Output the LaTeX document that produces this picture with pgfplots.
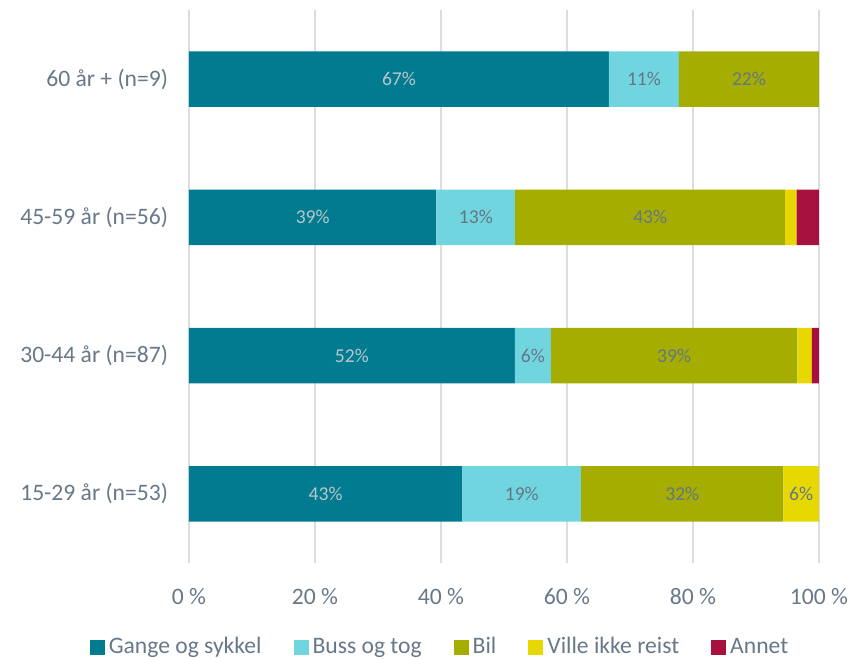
\documentclass[border=0pt]{standalone}
\usepackage{fontspec}
\setmainfont{Carlito}
\usepackage{pgfplots}
\usepackage{pgfplotstable}
\pgfplotsset{compat=1.18}

\definecolor{cGange}{HTML}{007B8F}
\definecolor{cBuss}{HTML}{71D5E0}
\definecolor{cBil}{HTML}{A4AD00}
\definecolor{cVille}{HTML}{E6D800}
\definecolor{cAnnet}{HTML}{A6123D}
\definecolor{txt}{HTML}{687889}
\definecolor{lblLight}{HTML}{BAC5CA}
\definecolor{lblDark}{HTML}{667686}
\definecolor{gridc}{HTML}{D9DEE3}

% y: 0 = 15-29, 1 = 30-44, 2 = 45-59, 3 = 60+ ; lab -1 = no label
\pgfplotstableread{
y v lab
0 43.39 43
1 51.72 52
2 39.28 39
3 66.66 67
}\gange
\pgfplotstableread{
y v lab
0 18.87 19
1 5.75 6
2 12.50 13
3 11.11 11
}\buss
\pgfplotstableread{
y v lab
0 32.08 32
1 39.08 39
2 42.86 43
3 22.22 22
}\bil
\pgfplotstableread{
y v lab
0 5.65 6
1 2.30 -1
2 1.79 -1
3 0 -1
}\ville
\pgfplotstableread{
y v lab
0 0 -1
1 1.14 -1
2 3.56 -1
3 0 -1
}\annet

\begin{document}
\begin{tikzpicture}
\useasboundingbox (-94.5bp,-48bp) rectangle (330.5bp,281.5bp);
\begin{axis}[
    at={(0,0)}, anchor=south west,
    scale only axis,
    width=315bp, height=276.5bp,
    xbar stacked,
    reverse stacked plots=false,
    bar width=0.4,
    xmin=0, xmax=100,
    ymin=-0.5, ymax=3.5,
    xtick={0,20,40,60,80,100},
    xticklabels={0 \%,20 \%,40 \%,60 \%,80 \%,100 \%},
    ytick={0,1,2,3},
    yticklabels={15-29 år (n=53),30-44 år (n=87),45-59 år (n=56),60 år + (n=9)},
    axis x line*=bottom, axis y line*=left,
    axis line style={draw=none},
    major tick length=0pt,
    xmajorgrids,
    grid style={gridc, line width=0.8bp},
    tick label style={font=\fontsize{11.8bp}{14bp}\selectfont, text=txt},
    xticklabel style={yshift=-9bp},
    yticklabel style={xshift=-7bp},
    visualization depends on={\thisrow{lab} \as \lab},
    nodes near coords={\ifdim\lab pt<0pt \else\pgfmathprintnumber[fixed,precision=0,assume math mode=true]{\lab}\%\fi},
    every node near coord/.append style={anchor=center,
        font=\fontsize{9.8bp}{11bp}\selectfont, text=lblDark},
    legend style={at={(0.4,-0.152)}, anchor=center, draw=none, fill=none,
        legend columns=-1, font=\fontsize{11.8bp}{14bp}\selectfont, text=txt,
        /tikz/every even column/.append style={column sep=14bp},
        nodes={inner xsep=2bp}},
    legend image code/.code={\fill[#1] (0bp,-3.75bp) rectangle (7.5bp,3.75bp);},
    ]
\addplot[fill=cGange, draw=none, every node near coord/.append style={text=lblLight}] table[x=v, y=y] {\gange};
\addplot[fill=cBuss, draw=none] table[x=v, y=y] {\buss};
\addplot[fill=cBil, draw=none] table[x=v, y=y] {\bil};
\addplot[fill=cVille, draw=none] table[x=v, y=y] {\ville};
\addplot[fill=cAnnet, draw=none] table[x=v, y=y] {\annet};
\legend{Gange og sykkel, Buss og tog, Bil, Ville ikke reist, Annet}
\end{axis}
\end{tikzpicture}
\end{document}
